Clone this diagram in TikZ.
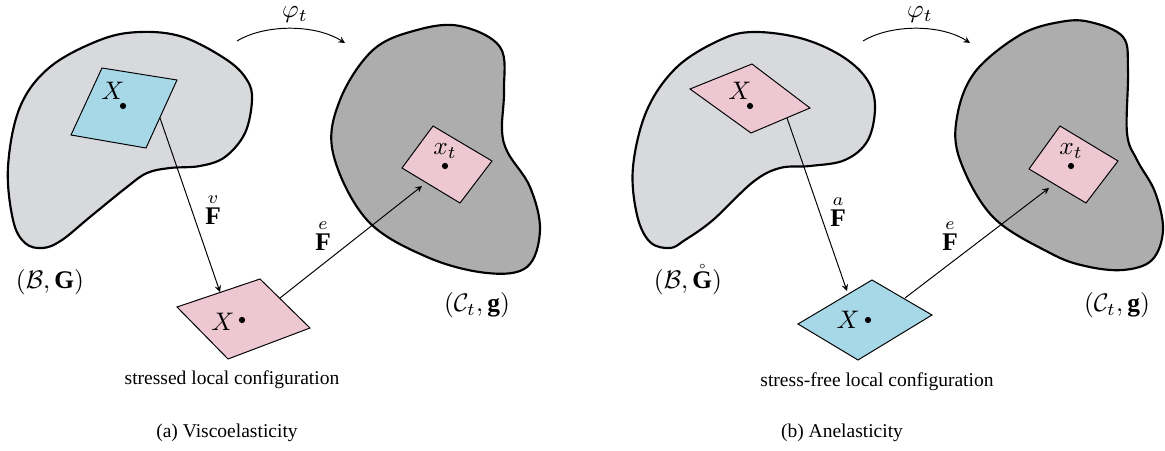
\documentclass[tikz,border=0pt]{standalone}
\usepackage{amsmath}
\usepackage{fontspec}
\setmainfont{Liberation Serif}
\usetikzlibrary{arrows}
\definecolor{refgray}{HTML}{D8D9DC}
\definecolor{curgray}{HTML}{ADADAD}
\definecolor{patchblue}{HTML}{A7D8E8}
\definecolor{patchpink}{HTML}{EDC8D2}
\tikzstyle{refbody} = [draw, line width=1.1pt, fill=refgray]
\tikzstyle{curbody} = [draw, line width=1.1pt, fill=curgray]
\tikzstyle{patch} = [draw, line width=0.5pt, line join=miter]
\tikzstyle{arrow} = [->, >=stealth, line width=0.5pt]
\tikzstyle{pt} = [circle, fill, inner sep=0pt, minimum size=3.2pt]
\tikzstyle{mlabel} = [scale=1.3, inner sep=1pt]

\begin{document}
\begin{tikzpicture}[x=0.018cm, y=-0.018cm]
        \useasboundingbox (0,0) rectangle (1165,451);
        % (a) viscoelasticity
        \draw[refbody] plot[smooth cycle, tension=0.6] coordinates {(140,32) (183,37) (227,60) (247,80) (252,100) (245,133) (225,157) (200,166) (170,168) (147,173) (127,187) (90,217) (62,240) (43,248) (25,243) (13,220) (8,167) (20,107) (50,67) (100,40)};
        \draw[curbody] plot[smooth cycle, tension=0.6] coordinates {(460,26) (500,47) (504,90) (502,130) (508,153) (530,187) (540,230) (527,267) (487,273) (427,257) (367,220) (333,153) (340,100) (373,50) (417,30)};
        \draw[patch, fill=patchblue] (102,68) -- (177,80) -- (146,148) -- (71,135) -- cycle;
        \draw[patch, fill=patchpink] (177,307) -- (260,279) -- (310,328) -- (228,359) -- cycle;
        \draw[patch, fill=patchpink] (433,126) -- (492,161) -- (460,203) -- (402,168) -- cycle;
        \node[mlabel] (refX) at (113,91) {$X$};
        \node[pt] (refP) at (123,106) {};
        \node[mlabel] (strX) at (223,322) {$X$};
        \node[pt] (strP) at (242,320) {};
        \node[mlabel] (curX) at (445,151) {$x_t$};
        \node[pt] (curP) at (445,166) {};
        \coordinate (vA) at (160,118);
        \coordinate (vB) at (220,292);
        \coordinate (eA) at (280,298);
        \coordinate (eB) at (422,186);
        \coordinate (phiA) at (237,41);
        \coordinate (phiB) at (345,43);
        \draw[arrow] (vA) -- (vB);
        \draw[arrow] (eA) -- (eB);
        \draw[arrow] (phiA) .. controls (265,24) and (315,24) .. (phiB);
        \node[mlabel, inner sep=0pt] (phi) at (295,15) {$\varphi_t$};
        \node[mlabel] (Fv) at (213,209) {$\overset{v}{\mathbf{F}}$};
        \node[mlabel] (Fe) at (323,235) {$\overset{e}{\mathbf{F}}$};
        \node[mlabel] (BG) at (50,282) {$(\mathcal{B},\mathbf{G})$};
        \node[mlabel] (Cg) at (477,305) {$(\mathcal{C}_t,\mathbf{g})$};
        \node (strTxt) at (232,380) {stressed local configuration};
        \node (capA) at (227,433) {(a) Viscoelasticity};
        % (b) anelasticity
        \draw[refbody] plot[smooth cycle, tension=0.6] coordinates {(753,32) (800,38) (840,55) (866,78) (875,105) (868,140) (845,160) (810,166) (780,168) (753,182) (713,220) (685,240) (670,248) (650,242) (637,215) (633,167) (647,110) (677,67) (720,40)};
        \draw[curbody] plot[smooth cycle, tension=0.6] coordinates {(1090,22) (1123,37) (1128,70) (1127,133) (1137,160) (1155,192) (1163,230) (1152,260) (1123,270) (1085,266) (1050,253) (993,217) (960,160) (957,117) (975,72) (1020,35) (1060,22)};
        \draw[patch, fill=patchpink] (690,89) -- (752,64) -- (810,108) -- (751,133) -- cycle;
        \draw[patch, fill=patchblue] (798,324) -- (872,280) -- (932,315) -- (858,360) -- cycle;
        \draw[patch, fill=patchpink] (1060,126) -- (1118,161) -- (1086,203) -- (1029,169) -- cycle;
        \node[mlabel] (refXb) at (740,91) {$X$};
        \node[pt] (refPb) at (750,106) {};
        \node[mlabel] (freeX) at (848,320) {$X$};
        \node[pt] (freeP) at (868,320) {};
        \node[mlabel] (curXb) at (1071,151) {$x_t$};
        \node[pt] (curPb) at (1071,166) {};
        \coordinate (aA) at (787,118);
        \coordinate (aB) at (847,291);
        \coordinate (ebA) at (905,298);
        \coordinate (ebB) at (1049,188);
        \coordinate (phibA) at (863,41);
        \coordinate (phibB) at (970,43);
        \draw[arrow] (aA) -- (aB);
        \draw[arrow] (ebA) -- (ebB);
        \draw[arrow] (phibA) .. controls (891,24) and (941,24) .. (phibB);
        \node[mlabel, inner sep=0pt] (phib) at (920,15) {$\varphi_t$};
        \node[mlabel] (Fa) at (838,211) {$\overset{a}{\mathbf{F}}$};
        \node[mlabel] (Feb) at (950,235) {$\overset{e}{\mathbf{F}}$};
        \node[mlabel] (BGb) at (688,280) {$(\mathcal{B},\mathring{\mathbf{G}})$};
        \node[mlabel] (Cgb) at (1117,305) {$(\mathcal{C}_t,\mathbf{g})$};
        \node (freeTxt) at (877,382) {stress-free local configuration};
        \node (capB) at (842,433) {(b) Anelasticity};
    \end{tikzpicture}
\end{document}
